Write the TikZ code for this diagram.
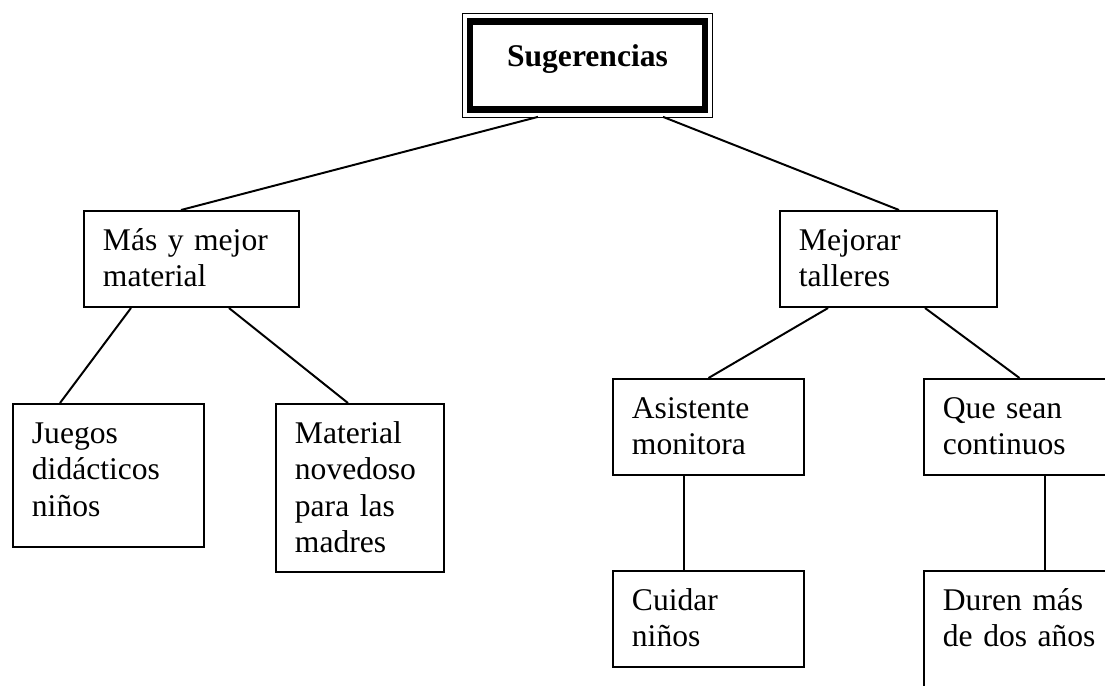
\documentclass[tikz,border=0pt]{standalone}
\usepackage{fontspec}
\setmainfont{Liberation Serif}

\begin{document}
\begin{tikzpicture}[
    x=0.38pt, y=-0.38pt,
    font=\fontsize{12}{13.8}\selectfont,
    box/.style={draw, line width=0.75pt, anchor=north west, align=left, inner xsep=7.2pt, inner ysep=0pt, text height=15pt},
    line/.style={line width=0.75pt}
]
\useasboundingbox (0,0) rectangle (1105,686);
\clip (0,0) rectangle (1105,686);

% Nodes
\node (sug) [draw, line width=2.6pt, font=\fontsize{12}{13.8}\selectfont\bfseries, minimum width=89.3pt, minimum height=33.4pt, text height=8.5pt, text depth=7.5pt] at (587.5,65.5) {Sugerencias};
\draw [line width=0.4pt] ([shift={(-4.5,-4.5)}]sug.north west) rectangle ([shift={(4.5,4.5)}]sug.south east);

\node (mas) [box, text width=67.3pt, text depth=21.5pt] at (83,210) {Más y mejor\\material};
\node (mejorar) [box, text width=68.1pt, text depth=21.5pt] at (779,210) {Mejorar\\talleres};
\node (juegos) [box, text width=58.2pt, text depth=39.3pt] at (12,403) {Juegos\\didácticos\\niños};
\node (material) [box, text width=49.4pt, text depth=48.8pt] at (275,403) {Material\\novedoso\\para las\\madres};
\node (asistente) [box, text width=58.2pt, text depth=21.5pt] at (612,378) {Asistente\\monitora};
\node (que) [box, text width=58.2pt, text depth=21.5pt] at (923,378) {Que sean\\continuos};
\node (cuidar) [box, text width=58.2pt, text depth=21.5pt] at (612,570) {Cuidar\\niños};
\node (duren) [box, text width=58.2pt, text depth=39.3pt] at (923,570) {Duren más\\de dos años};

% Edges
\draw [line] ([shift={(-49.5,4)}]sug.south) -- ([shift={(-10.5,0)}]mas.north);
\draw [line] ([shift={(75.5,4)}]sug.south) -- ([shift={(10.5,0)}]mejorar.north);
\draw [line] ([shift={(-60.5,0)}]mas.south) -- ([shift={(-48.5,0)}]juegos.north);
\draw [line] ([shift={(37.5,0)}]mas.south) -- ([shift={(-12,0)}]material.north);
\draw [line] ([shift={(-60.5,0)}]mejorar.south) -- (asistente.north);
\draw [line] ([shift={(36.5,0)}]mejorar.south) -- (que.north);
\draw [line] ([shift={(-24.5,0)}]asistente.south) -- ([shift={(-24.5,0)}]cuidar.north);
\draw [line] ([shift={(25.5,0)}]que.south) -- ([shift={(25.5,0)}]duren.north);

\end{tikzpicture}
\end{document}
